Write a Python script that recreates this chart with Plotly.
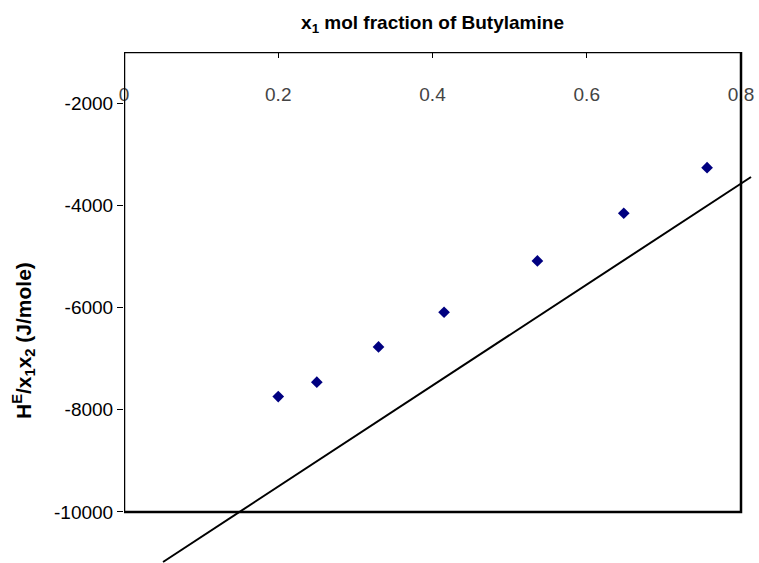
import plotly.graph_objects as go

# data
x_mol = [0.2, 0.25, 0.33, 0.415, 0.536, 0.648, 0.756]
he_ratio = [-7744, -7462, -6772, -6093, -5089, -4156, -3263]

line_x = [0.0506, 0.813]
line_y = [-10980, -3446]

x_ticks = [0, 0.2, 0.4, 0.6, 0.8]
x_ticktext = ["0", "0.2", "0.4", "0.6", "0.8"]
y_ticks = [-10000, -8000, -6000, -4000, -2000]
y_ticktext = ["-10000", "-8000", "-6000", "-4000", "-2000"]

box_x = [0, 0.8]
box_y = [-10000, -1000]

W, H = 759, 563
ML, MR, MT, MB = 124, 0, 52, 0
pw, ph = W - ML - MR, H - MT - MB

fig = go.Figure()
fig.add_trace(go.Scatter(x=line_x, y=line_y, mode="lines",
                         line=dict(color="black", width=2), showlegend=False,
                         hoverinfo="skip"))
fig.add_trace(go.Scatter(x=x_mol, y=he_ratio, mode="markers",
                         marker=dict(symbol="diamond", size=9, color="#000080",
                                     line=dict(width=0)),
                         showlegend=False))

fig.add_shape(type="rect", xref="x", yref="y",
              x0=box_x[0], x1=box_x[1], y0=box_y[0], y1=box_y[1],
              line=dict(color="black", width=2.5), layer="above")

fig.update_layout(
    width=W, height=H,
    margin=dict(l=ML, r=MR, t=MT, b=MB),
    paper_bgcolor="white", plot_bgcolor="white",
    font=dict(family="Liberation Sans, Arial, sans-serif", color="black", size=18),
    title=dict(text="<b>x<sub>1</sub> mol fraction of Butylamine</b>",
               xref="paper", x=(432.5 - ML) / pw, xanchor="center",
               yref="container", y=1 - 22 / H, yanchor="middle",
               font=dict(size=19, color="black")),
    xaxis=dict(range=[0, 0.8 + (W - 741) / 771.25], side="top",
               showgrid=False, zeroline=False, showline=False,
               tickmode="array", tickvals=x_ticks, ticktext=x_ticktext,
               ticks="inside", ticklen=6, tickcolor="black", tickwidth=1,
               ticklabelposition="inside", ticklabelstandoff=31,
               ticklabeloverflow="allow",
               tickfont=dict(size=19)),
    yaxis=dict(range=[-11000, -1000],
               showgrid=False, zeroline=False, showline=False,
               tickmode="array", tickvals=y_ticks, ticktext=y_ticktext,
               ticks="outside", ticklen=6, tickcolor="black", tickwidth=1,
               tickfont=dict(size=19)),
    annotations=[dict(text="<b>H<sup>E</sup>/x<sub>1</sub>x<sub>2</sub> (J/mole)</b>",
                      xref="paper", yref="paper",
                      x=(23 - ML) / pw, y=(H - 340) / ph,
                      xanchor="center", yanchor="middle",
                      textangle=-90, showarrow=False,
                      font=dict(size=21, color="black"))],
)

fig.write_html("out.html")
